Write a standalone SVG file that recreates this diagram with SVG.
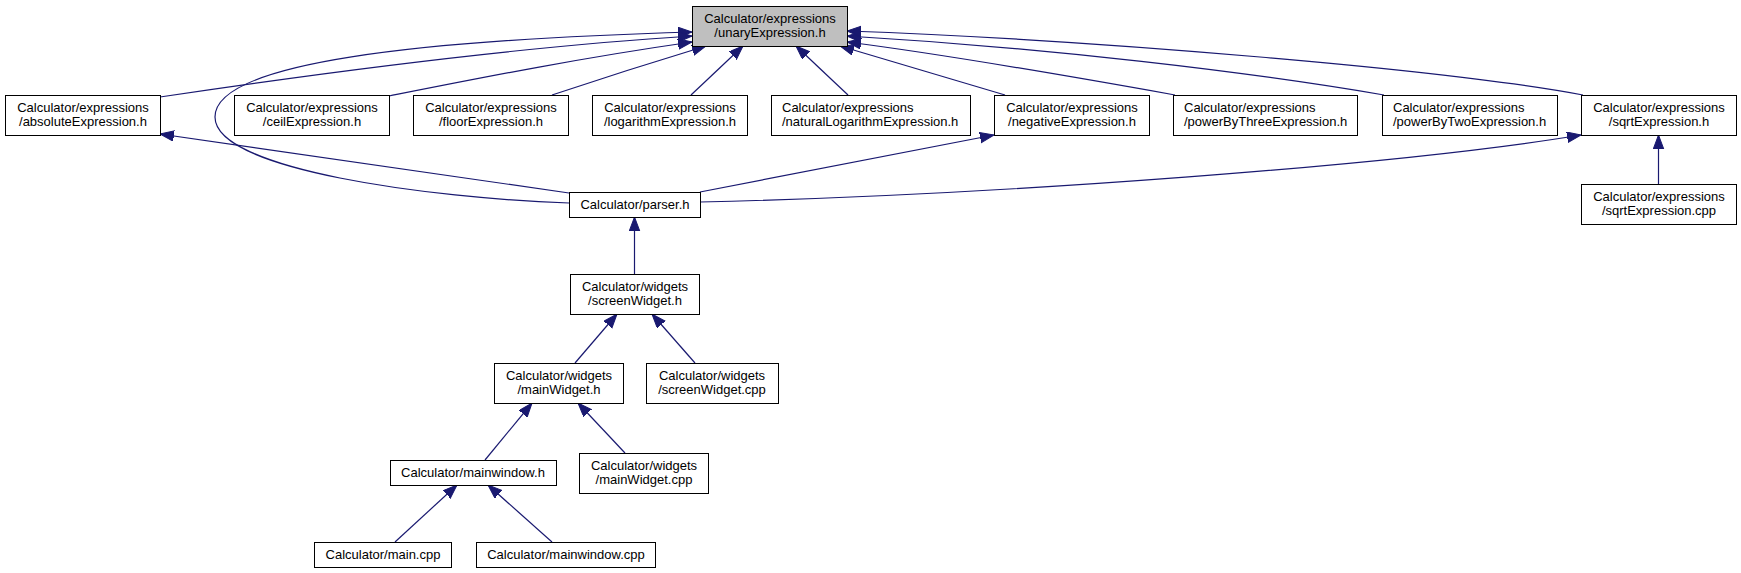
<svg xmlns="http://www.w3.org/2000/svg" width="1741" height="573" viewBox="0 0 1741 573">
<style>
rect.n{fill:#ffffff;stroke:#000000;stroke-width:1}
rect.g{fill:#bfbfbf;stroke:#000000;stroke-width:1}
text{font-family:"Liberation Sans",Arial,sans-serif;font-size:13px;fill:#000000}
text.c{text-anchor:middle}
#edges path{fill:none;stroke:#191970;stroke-width:1.2;marker-end:url(#ah)}
</style>
<defs>
<marker id="ah" markerUnits="userSpaceOnUse" markerWidth="16" markerHeight="12" refX="14" refY="5.25" orient="auto">
<path d="M0,0 L14,5.25 L0,10.5 z" fill="#191970" stroke="#191970" stroke-width="1"/>
</marker>
</defs>
<rect width="1741" height="573" fill="#ffffff"/>
<g id="edges">
<path d="M569,203 C430,198 215,170 215,117 C215,62 420,40 692,32"/>
<path d="M160,97 C300,76 500,48 692,36"/>
<path d="M389,96 C480,78 580,58 692,42"/>
<path d="M552,95 C600,79 650,63 706,46"/>
<path d="M691,95 L743,46"/>
<path d="M848,95 L796,46"/>
<path d="M1005,95 L840,46"/>
<path d="M1175,95 C1080,78 950,55 847,42"/>
<path d="M1384,95 C1250,72 1050,48 847,36"/>
<path d="M1583,95 C1450,70 1100,40 847,31"/>
<path d="M569,193 L160,134"/>
<path d="M700,192 L994,135"/>
<path d="M700,202 C1000,195 1400,165 1581,135"/>
<path d="M1658.5,184 L1658.5,135"/>
<path d="M634.5,274 L634.5,217"/>
<path d="M575,363 L617,314"/>
<path d="M695,363 L652,314"/>
<path d="M485,460 L532,403"/>
<path d="M625,453 L578,403"/>
<path d="M395,542 L457,485"/>
<path d="M552,542 L488,485"/>
</g>
<g id="unary"><rect class="g" x="692.5" y="6.5" width="155" height="40"/><text class="c" x="770" y="23">Calculator/expressions</text><text class="c" x="770" y="37">/unaryExpression.h</text></g>
<g id="absolute"><rect class="n" x="5.5" y="95.5" width="155" height="40"/><text class="c" x="83" y="112">Calculator/expressions</text><text class="c" x="83" y="126">/absoluteExpression.h</text></g>
<g id="ceil"><rect class="n" x="234.5" y="95.5" width="155" height="40"/><text class="c" x="312" y="112">Calculator/expressions</text><text class="c" x="312" y="126">/ceilExpression.h</text></g>
<g id="floor"><rect class="n" x="413.5" y="95.5" width="155" height="40"/><text class="c" x="491" y="112">Calculator/expressions</text><text class="c" x="491" y="126">/floorExpression.h</text></g>
<g id="logarithm"><rect class="n" x="592.5" y="95.5" width="155" height="40"/><text class="c" x="670" y="112">Calculator/expressions</text><text class="c" x="670" y="126">/logarithmExpression.h</text></g>
<g id="naturalLogarithm"><rect class="n" x="771.5" y="95.5" width="199" height="40"/><text x="782" y="112">Calculator/expressions</text><text x="782" y="126">/naturalLogarithmExpression.h</text></g>
<g id="negative"><rect class="n" x="994.5" y="95.5" width="155" height="40"/><text class="c" x="1072" y="112">Calculator/expressions</text><text class="c" x="1072" y="126">/negativeExpression.h</text></g>
<g id="powerByThree"><rect class="n" x="1173.5" y="95.5" width="184" height="40"/><text x="1184" y="112">Calculator/expressions</text><text x="1184" y="126">/powerByThreeExpression.h</text></g>
<g id="powerByTwo"><rect class="n" x="1382.5" y="95.5" width="175" height="40"/><text x="1393" y="112">Calculator/expressions</text><text x="1393" y="126">/powerByTwoExpression.h</text></g>
<g id="sqrt"><rect class="n" x="1581.5" y="95.5" width="155" height="40"/><text class="c" x="1659" y="112">Calculator/expressions</text><text class="c" x="1659" y="126">/sqrtExpression.h</text></g>
<g id="sqrtcpp"><rect class="n" x="1581.5" y="184.5" width="155" height="40"/><text class="c" x="1659" y="201">Calculator/expressions</text><text class="c" x="1659" y="215">/sqrtExpression.cpp</text></g>
<g id="parser"><rect class="n" x="569.5" y="192.5" width="131" height="25"/><text class="c" x="635" y="209">Calculator/parser.h</text></g>
<g id="screenWidgetH"><rect class="n" x="570.5" y="274.5" width="129" height="40"/><text class="c" x="635" y="291">Calculator/widgets</text><text class="c" x="635" y="305">/screenWidget.h</text></g>
<g id="mainWidgetH"><rect class="n" x="494.5" y="363.5" width="129" height="40"/><text class="c" x="559" y="380">Calculator/widgets</text><text class="c" x="559" y="394">/mainWidget.h</text></g>
<g id="screenWidgetCpp"><rect class="n" x="646.5" y="363.5" width="132" height="40"/><text class="c" x="712" y="380">Calculator/widgets</text><text class="c" x="712" y="394">/screenWidget.cpp</text></g>
<g id="mainwindowH"><rect class="n" x="390.5" y="460.5" width="166" height="25"/><text class="c" x="473" y="477">Calculator/mainwindow.h</text></g>
<g id="mainWidgetCpp"><rect class="n" x="579.5" y="453.5" width="129" height="40"/><text class="c" x="644" y="470">Calculator/widgets</text><text class="c" x="644" y="484">/mainWidget.cpp</text></g>
<g id="mainCpp"><rect class="n" x="314.5" y="542.5" width="137" height="25"/><text class="c" x="383" y="559">Calculator/main.cpp</text></g>
<g id="mainwindowCpp"><rect class="n" x="476.5" y="542.5" width="179" height="25"/><text class="c" x="566" y="559">Calculator/mainwindow.cpp</text></g>
</svg>
